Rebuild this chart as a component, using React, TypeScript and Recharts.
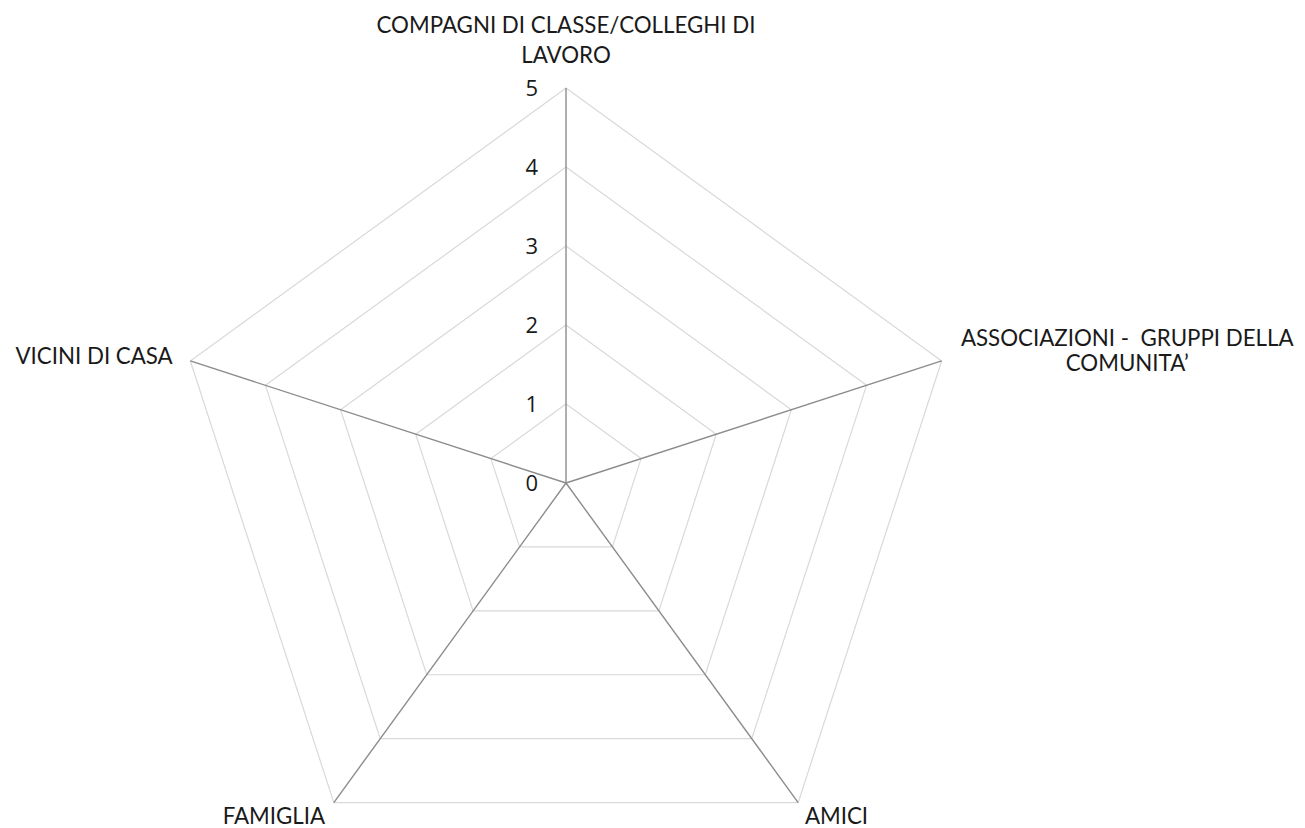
import React from 'react';
import { RadarChart, Radar, PolarGrid, PolarAngleAxis, PolarRadiusAxis } from 'recharts';

const categories = [
  'COMPAGNI DI CLASSE/COLLEGHI DI LAVORO',
  'ASSOCIAZIONI -  GRUPPI DELLA COMUNITA’',
  'AMICI',
  'FAMIGLIA',
  'VICINI DI CASA',
];
const seriesValues = [0, 0, 0, 0, 0];
const radiusTicks = [0, 1, 2, 3, 4, 5];

const labelLines: string[][] = [
  ['COMPAGNI DI CLASSE/COLLEGHI DI', 'LAVORO'],
  ['ASSOCIAZIONI -  GRUPPI DELLA', 'COMUNITA’'],
  ['AMICI'],
  ['FAMIGLIA'],
  ['VICINI DI CASA'],
];

const data = categories.map((c, i) => ({ name: c, value: seriesValues[i] }));

const FONT = 'Lato, sans-serif';
const NUMFONT = '"Open Sans", sans-serif';
const TEXT = '#1a1a1a';

const AngleTick = (props: any) => {
  const { x, y, index } = props;
  const lines = labelLines[index] || [String(props.payload?.value)];
  const common = { fontFamily: FONT, fontSize: 22.3, fill: TEXT, style: { whiteSpace: 'pre' as const } };
  if (index === 0) {
    return (
      <g>
        <text x={x} y={y - 47} textAnchor="middle" {...common}>{lines[0]}</text>
        <text x={x} y={y - 17} textAnchor="middle" {...common}>{lines[1]}</text>
      </g>
    );
  }
  if (index === 1) {
    return (
      <g>
        <text x={x + 178} y={y - 12} textAnchor="middle" {...common}>{lines[0]}</text>
        <text x={x + 178} y={y + 13} textAnchor="middle" {...common}>{lines[1]}</text>
      </g>
    );
  }
  if (index === 2) {
    return <text x={x + 2} y={y + 15} textAnchor="start" {...common}>{lines[0]}</text>;
  }
  if (index === 3) {
    return <text x={x - 4} y={y + 15} textAnchor="end" {...common}>{lines[0]}</text>;
  }
  return <text x={x - 10} y={y + 6} textAnchor="end" {...common}>{lines[0]}</text>;
};

const RadiusTick = (props: any) => {
  const { x, y, payload } = props;
  return (
    <text x={x - 28} y={y + 8} textAnchor="end" fontFamily={NUMFONT} fontSize={22} fill={TEXT}>
      {payload.value}
    </text>
  );
};

export default function App() {
  return (
    <div style={{ width: 1297, height: 820 }}>
      <RadarChart
        width={1297}
        height={820}
        data={data}
        cx={558}
        cy={475}
        outerRadius={395}
        margin={{ top: 0, right: 0, bottom: 0, left: 0 }}
      >
        <PolarGrid gridType="polygon" radialLines={false} stroke="#d9d9d9" strokeWidth={1.2} />
        <PolarGrid gridType="polygon" polarRadius={[]} radialLines stroke="#8c8c8c" strokeWidth={1.4} />
        <PolarAngleAxis dataKey="name" tick={<AngleTick />} tickLine={false} axisLine={false} />
        <PolarRadiusAxis
          angle={90}
          domain={[0, 5]}
          ticks={radiusTicks as any}
          tickCount={6}
          orientation="left"
          axisLine={false}
          tickLine={false}
          tick={<RadiusTick />}
        />
        <Radar dataKey="value" stroke="#8c8c8c" fill="none" strokeWidth={1.4} isAnimationActive={false} dot={false} />
      </RadarChart>
    </div>
  );
}
